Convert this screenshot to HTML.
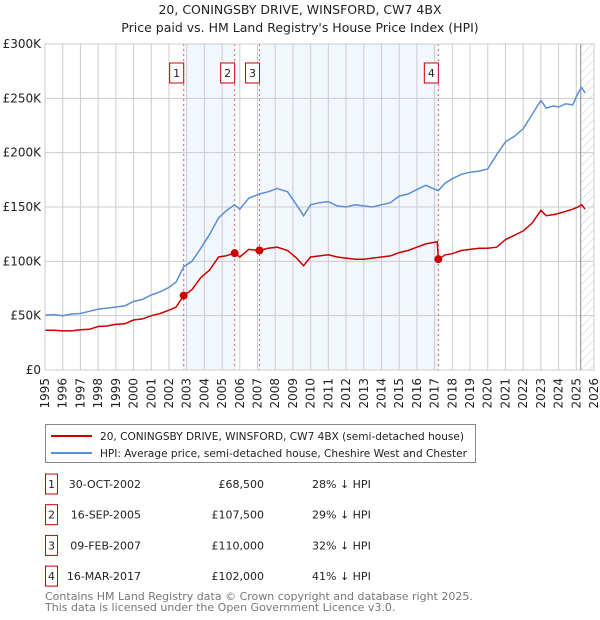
<!DOCTYPE html>
<html><head><meta charset="utf-8">
<style>
body{margin:0;background:#fff;font-family:"DejaVu Sans","Liberation Sans",sans-serif;}
#wrap{position:relative;width:600px;height:620px;overflow:hidden;}
svg text{font-family:"DejaVu Sans","Liberation Sans",sans-serif;}
</style></head>
<body><div id="wrap">
<svg id="svg" width="600" height="620"></svg>
</div>
<script>
const years=[1995,1996,1997,1998,1999,2000,2001,2002,2003,2004,2005,2006,2007,2008,2009,2010,2011,2012,2013,2014,2015,2016,2017,2018,2019,2020,2021,2022,2023,2024,2025,2026];
const yTicks=[0,50000,100000,150000,200000,250000,300000];
const yTickLabels=["£0","£50K","£100K","£150K","£200K","£250K","£300K"];
const hpiT=[1995,1995.5,1996,1996.5,1997,1997.5,1998,1998.5,1999,1999.5,2000,2000.5,2001,2001.5,2002,2002.4,2002.83,2003.3,2003.8,2004.3,2004.8,2005.2,2005.7,2006,2006.5,2007.1,2007.6,2008.1,2008.7,2009.2,2009.6,2010,2010.5,2011,2011.5,2012,2012.5,2013,2013.5,2014,2014.5,2015,2015.5,2016,2016.5,2017.2,2017.6,2018,2018.5,2019,2019.5,2020,2020.5,2021,2021.5,2022,2022.5,2023,2023.3,2023.7,2024,2024.4,2024.8,2025.1,2025.3,2025.5];
const hpiV=[50.5,51,50,51.5,52,54,56,57,58,59,63,65,69,72,76,81,95,100,112,125,140,146,152,148,158,162,164,167,164,152,142,152,154,155,151,150,152,151,150,152,154,160,162,166,170,165,172,176,180,182,183,185,198,210,215,222,235,248,241,243,242,245,244,255,260,255];
const redT=[1995,1995.5,1996,1996.5,1997,1997.5,1998,1998.5,1999,1999.5,2000,2000.5,2001,2001.5,2002,2002.4,2002.83,2003.3,2003.8,2004.3,2004.8,2005.2,2005.71,2006,2006.5,2007.11,2007.6,2008.1,2008.7,2009.2,2009.6,2010,2010.5,2011,2011.5,2012,2012.5,2013,2013.5,2014,2014.5,2015,2015.5,2016,2016.5,2017.15,2017.21,2017.6,2018,2018.5,2019,2019.5,2020,2020.5,2021,2021.5,2022,2022.5,2023,2023.3,2023.7,2024,2024.4,2024.8,2025.1,2025.3,2025.5];
const redV=[36.5,36.5,36,36,37,37.5,40,40.5,42,42.5,46,47,50,52,55,58,68.5,74,85,92,104,105,107.5,104,111,110,112,113,110,103,96,104,105,106,104,103,102,102,103,104,105,108,110,113,116,118,102,106,107,110,111,112,112,113,120,124,128,135,147,142,143,144,146,148,150,152,148];
const saleT=[2002.83,2005.71,2007.11,2017.21];
const saleV=[68500,107500,110000,102000];
const saleLabels=["1","2","3","4"];
const saleDates=["30-OCT-2002","16-SEP-2005","09-FEB-2007","16-MAR-2017"];
const salePrices=["£68,500","£107,500","£110,000","£102,000"];
const salePct=["28% ↓ HPI","29% ↓ HPI","32% ↓ HPI","41% ↓ HPI"];

const L=45,R=594,T=44,B=370;
const x=t=>L+(t-1995)/(2026-1995)*(R-L);
const y=v=>B-v/300000*(B-T);
const NS="http://www.w3.org/2000/svg";
const svg=document.getElementById('svg');
function mk(tag,attrs,parent){const e=document.createElementNS(NS,tag);for(const k in attrs)e.setAttribute(k,attrs[k]);(parent||svg).appendChild(e);return e;}

let t1=mk('text',{x:300,y:14,'text-anchor':'middle','font-size':'12.5',fill:'#222'});t1.textContent="20, CONINGSBY DRIVE, WINSFORD, CW7 4BX";


let t2=mk('text',{x:300,y:32,'text-anchor':'middle','font-size':'12.5',fill:'#222'});t2.textContent="Price paid vs. HM Land Registry's House Price Index (HPI)";



let defs=mk('defs',{});
let pat=mk('pattern',{id:'hatch',width:6,height:6,patternUnits:'userSpaceOnUse',patternTransform:'rotate(45)'},defs);
mk('line',{x1:0,y1:0,x2:0,y2:6,stroke:'#ccc','stroke-width':1},pat);
const bands=[[saleT[0],saleT[1]],[saleT[2],saleT[3]]];
bands.forEach((b,i)=>{let r=mk('rect',{x:x(b[0]),y:T,width:x(b[1])-x(b[0]),height:B-T,fill:'#eef3fc',opacity:0.75});

});
let hr=mk('rect',{x:x(2025.25),y:T,width:R-x(2025.25),height:B-T,fill:'url(#hatch)'});



years.forEach(yr=>{let l=mk('line',{x1:x(yr),x2:x(yr),y1:T,y2:B,stroke:'#ccc','stroke-width':1});


let tx=mk('text',{transform:`translate(${x(yr)+4},${B+8}) rotate(-90)`,'text-anchor':'end','font-size':'12',fill:'#222'});tx.textContent=yr;

});
yTicks.forEach((v,i)=>{let l=mk('line',{x1:L,x2:R,y1:y(v),y2:y(v),stroke:'#ccc','stroke-width':1});


let tx=mk('text',{x:L-4,y:y(v)+4,'text-anchor':'end','font-size':'12',fill:'#222'});tx.textContent=yTickLabels[i];

});
let vline=mk('line',{x1:x(2025.25),x2:x(2025.25),y1:T,y2:B,stroke:'#888','stroke-width':1});



saleT.forEach((s,i)=>{let l=mk('line',{x1:x(s),x2:x(s),y1:T,y2:B,stroke:'#e06060','stroke-width':1,'stroke-dasharray':'2,3'});


let g=mk('g',{});


mk('rect',{x:x(s)-14,y:63,width:14,height:20,fill:'#fff',stroke:'#c00','stroke-width':1},g);
let tx=mk('text',{x:x(s)-7,y:77,'text-anchor':'middle','font-size':'11',fill:'#222'},g);tx.textContent=saleLabels[i];});

let hp=hpiT.map((t,i)=>(i?'L':'M')+x(t).toFixed(1)+','+y(hpiV[i]*1000).toFixed(1)).join('');
let hl=mk('path',{d:hp,fill:'none',stroke:'#5b8fd4','stroke-width':1.5});


let rp=redT.map((t,i)=>(i?'L':'M')+x(t).toFixed(1)+','+y(redV[i]*1000).toFixed(1)).join('');
let rl=mk('path',{d:rp,fill:'none',stroke:'#cc0000','stroke-width':1.5});


saleT.forEach((s,i)=>{let c=mk('circle',{cx:x(s),cy:y(saleV[i]),r:4,fill:'#cc0000'});

});
let fr=mk('rect',{x:L,y:T,width:R-L,height:B-T,fill:'none',stroke:'#ccc'});



let lg=mk('g',{});


mk('rect',{x:45.5,y:424.5,width:430,height:38,fill:'#fff',stroke:'#888'},lg);
mk('line',{x1:51,x2:92,y1:436,y2:436,stroke:'#cc0000','stroke-width':2},lg);
mk('line',{x1:51,x2:92,y1:453,y2:453,stroke:'#5b8fd4','stroke-width':2},lg);
let l1=mk('text',{x:100,y:440,'font-size':'10.5',textLength:364,lengthAdjust:'spacingAndGlyphs',fill:'#222'},lg);l1.textContent="20, CONINGSBY DRIVE, WINSFORD, CW7 4BX (semi-detached house)";


let l2=mk('text',{x:100,y:457,'font-size':'10.5',textLength:367,lengthAdjust:'spacingAndGlyphs',fill:'#222'},lg);l2.textContent="HPI: Average price, semi-detached house, Cheshire West and Chester";



saleLabels.forEach((lab,i)=>{const cy=484+i*30.7;
let g=mk('g',{});


mk('rect',{x:45.5,y:cy-10,width:12,height:20,fill:'#fff',stroke:'#c00'},g);
let a=mk('text',{x:51.5,y:cy+4,'text-anchor':'middle','font-size':'11',fill:'#222'},g);a.textContent=lab;
let b=mk('text',{x:141,y:cy+4,'text-anchor':'end','font-size':'11',fill:'#222'},g);b.textContent=saleDates[i];
let c=mk('text',{x:264,y:cy+4,'text-anchor':'end','font-size':'11',fill:'#222'},g);c.textContent=salePrices[i];
let d=mk('text',{x:312,y:cy+4,'font-size':'11',fill:'#222'},g);d.textContent=salePct[i];});

let f1=mk('text',{x:45,y:600,'font-size':'11',fill:'#777'});f1.textContent="Contains HM Land Registry data © Crown copyright and database right 2025.";


let f2=mk('text',{x:45,y:611,'font-size':'11',fill:'#777'});f2.textContent="This data is licensed under the Open Government Licence v3.0.";


</script>
</body></html>
